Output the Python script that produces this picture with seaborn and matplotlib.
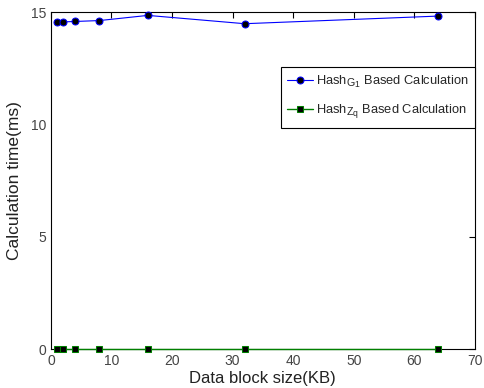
import matplotlib
matplotlib.use("Agg")
import matplotlib.pyplot as plt
import matplotlib._mathtext as _mt
import seaborn as sns
import pandas as pd

block_sizes = [1, 2, 4, 8, 16, 32, 64]
hash_g1 = [14.55, 14.56, 14.58, 14.62, 14.85, 14.48, 14.82]
hash_zq = [0.02, 0.02, 0.02, 0.02, 0.02, 0.02, 0.02]
label_g1 = r"Hash$_{G_1}$ Based Calculation"
label_zq = r"Hash$_{Z_q}$ Based Calculation"

_mt.SHRINK_FACTOR = 0.82

sns.set_style("white")
plt.rcParams["font.family"] = ["Liberation Sans", "DejaVu Sans"]
plt.rcParams["mathtext.fontset"] = "custom"
plt.rcParams["mathtext.rm"] = "Liberation Sans"
plt.rcParams["mathtext.it"] = "Liberation Sans"
plt.rcParams["mathtext.default"] = "regular"

df = pd.DataFrame({
    "x": block_sizes * 2,
    "y": hash_g1 + hash_zq,
    "series": [label_g1] * len(block_sizes) + [label_zq] * len(block_sizes),
})

fig = plt.figure(figsize=(4.85, 3.88), dpi=100)
ax = fig.add_axes([0.105, 0.1005, 0.874, 0.8685])

sns.lineplot(data=df[df.series == label_g1], x="x", y="y", ax=ax, color="blue",
             marker="o", markersize=5, markerfacecolor="black", markeredgecolor="blue",
             linewidth=0.8, label=label_g1, clip_on=False, zorder=5)
sns.lineplot(data=df[df.series == label_zq], x="x", y="y", ax=ax, color="green",
             marker="s", markersize=4, markerfacecolor="black", markeredgecolor="green",
             linewidth=1.0, label=label_zq, clip_on=False, zorder=5)

ax.set_xlim(0, 70)
ax.set_ylim(0, 15)
ax.set_xticks(range(0, 71, 10))
ax.set_yticks([0, 5, 10, 15])
ax.tick_params(direction="in", length=4, width=0.8, top=True, right=True,
               labelsize=10, colors="black")
ax.tick_params(axis="both", labelcolor="#444444")
for s in ax.spines.values():
    s.set_color("black")
    s.set_linewidth(0.8)
ax.set_xlabel("Data block size(KB)", fontsize=12, color="#222222", labelpad=2)
ax.set_ylabel("Calculation time(ms)", fontsize=12.5, color="#222222", labelpad=6)

leg = ax.legend(loc="upper right", bbox_to_anchor=(1.0, 0.837), borderaxespad=0,
                frameon=True, fancybox=False, fontsize=9.3, handlelength=2.0,
                borderpad=0.5, labelspacing=0.95, handletextpad=0.2)
leg.get_frame().set_edgecolor("black")
leg.get_frame().set_linewidth(0.8)
leg.get_frame().set_alpha(1)

fig.savefig("out.png", dpi=100)
